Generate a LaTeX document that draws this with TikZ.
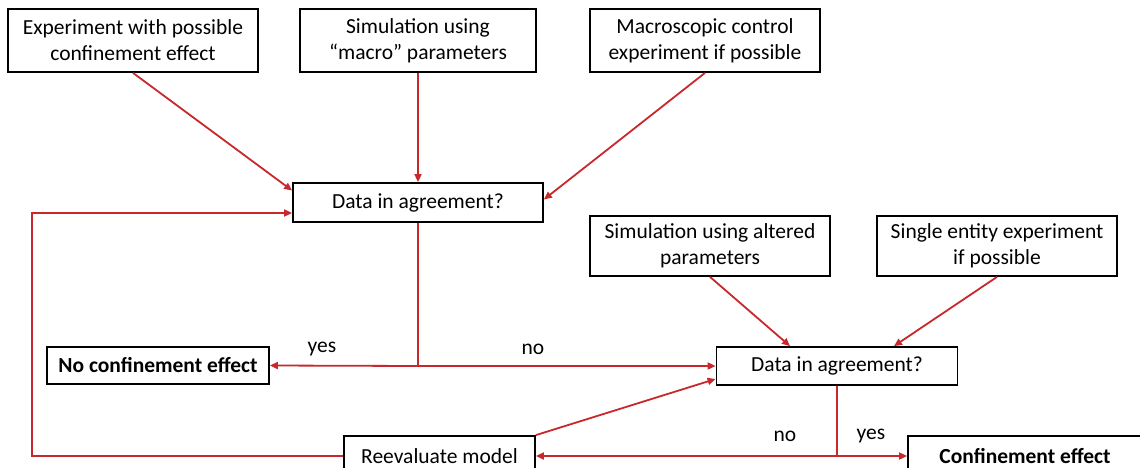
\documentclass[tikz,border=0pt]{standalone}
\usepackage{fontspec}
\setmainfont{Carlito}
\usetikzlibrary{arrows.meta,calc}
\definecolor{lred}{RGB}{200,40,44}
\tikzset{
  box/.style={draw=black,line width=1.8pt,fill=white,align=center,inner sep=2pt,
    font=\fontsize{21.5}{26}\selectfont},
  arr/.style={draw=lred,line width=1.8pt,-{Triangle[length=8pt,width=7pt]}},
  ln/.style={draw=lred,line width=1.8pt},
  lbl/.style={font=\fontsize{21.5}{24}\selectfont,inner sep=0pt}
}
\begin{document}
\begin{tikzpicture}[x=1pt,y=-1pt]
\useasboundingbox (0,0) rectangle (1140,468);
\fill[white] (0,0) rectangle (1140,468);
\node[box,minimum width=250pt,minimum height=63pt] (A) at (133,40.5) {Experiment with possible\\confinement effect};
\node[box,minimum width=236pt,minimum height=63pt] (B) at (418,40.5) {Simulation using\\“macro” parameters};
\node[box,minimum width=230pt,minimum height=63pt] (C) at (705,40.5) {Macroscopic control\\experiment if possible};
\node[box,minimum width=250pt,minimum height=39pt] (D1) at (418,202.5) {Data in agreement?};
\node[box,minimum width=240pt,minimum height=60pt] (E) at (710,246) {Simulation using altered\\parameters};
\node[box,minimum width=240pt,minimum height=60pt] (F) at (997,246) {Single entity experiment\\if possible};
\node[box,minimum width=222pt,minimum height=37pt] (G) at (158,365.5) {\textbf{No confinement effect}};
\node[box,minimum width=241pt,minimum height=38pt] (D2) at (837,366) {Data in agreement?};
\node[box,minimum width=191pt,minimum height=40pt] (H) at (439.5,456) {Reevaluate model};
\node[box,minimum width=234pt,minimum height=40pt] (I) at (1025,456) {\textbf{Confinement effect}};

\draw[arr] (A.south) -- ([yshift=12pt]D1.west);
\draw[arr] (B.south) -- (D1.north);
\draw[arr] (C.south) -- ([yshift=3pt]D1.east);

\coordinate (j1) at (D1.south |- 0,366);
\draw[ln] (D1.south) -- (j1);
\draw[arr] (j1) -- (G.east);
\draw[arr] (j1) -- (D2.west);
\node[lbl] (yes1) at (322,349) {yes};
\node[lbl] (no1) at (533,349) {no};

\draw[arr] (E.south) -- ([xshift=-47pt]D2.north);
\draw[arr] (F.south) -- ([xshift=57pt]D2.north);

\coordinate (j2) at (D2.south |- 0,456);
\draw[ln] (D2.south) -- (j2);
\draw[arr] (j2) -- (H.east);
\draw[arr] (j2) -- (I.west);
\node[lbl] (no2) at (785,436) {no};
\node[lbl] (yes2) at (871,436) {yes};

\draw[arr] (H.north east) -- ([yshift=-13pt]D2.west);

\coordinate (fb) at (32,456);
\draw[arr] (H.west) -- (fb) |- ([yshift=-10.5pt]D1.west);
\end{tikzpicture}
\end{document}
